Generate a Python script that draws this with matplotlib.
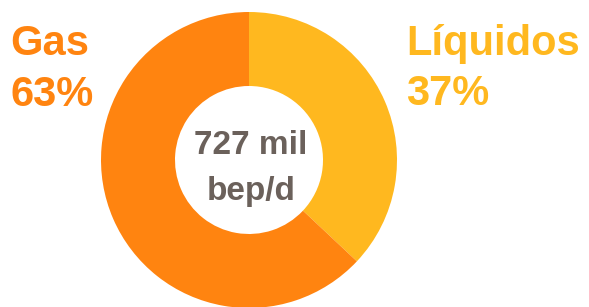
import matplotlib
matplotlib.use("Agg")
import matplotlib.pyplot as plt

# datos: participación de la producción
labels = ["Líquidos", "Gas"]
shares = [37, 63]
colors = ["#FFB81F", "#FF8410"]
total_lines = ["727 mil", "bep/d"]

plt.rcParams["font.family"] = ["Liberation Sans", "DejaVu Sans"]

W, H = 589, 307
fig = plt.figure(figsize=(W / 100, H / 100), dpi=100)
ax = fig.add_axes([0, 0, 1, 1])

cx, cy, r = 249, H - 160, 148
ax.pie(shares, colors=colors, startangle=90, counterclock=False,
       center=(cx, cy), radius=r, frame=True,
       wedgeprops=dict(width=r * 0.5, linewidth=0))
ax.set_xlim(0, W)
ax.set_ylim(0, H)
ax.set_aspect("equal")
ax.axis("off")

# etiquetas de cada porción
style = dict(fontsize=30, fontweight="bold", ha="left", va="baseline")
ax.text(10, H - 55, labels[1], color=colors[1], **style)
ax.text(10, H - 106, f"{shares[1]}%", color=colors[1], **style)
ax.text(406, H - 55, labels[0], color=colors[0], **style)
ax.text(406, H - 105, f"{shares[0]}%", color=colors[0], **style)

# total en el centro
ax.text(cx + 2, H - 154, total_lines[0], color="#6B615B", fontsize=24,
        fontweight="bold", ha="center", va="baseline")
ax.text(cx + 2, H - 200, total_lines[1], color="#6B615B", fontsize=24,
        fontweight="bold", ha="center", va="baseline")

fig.savefig("out.png", dpi=100)
